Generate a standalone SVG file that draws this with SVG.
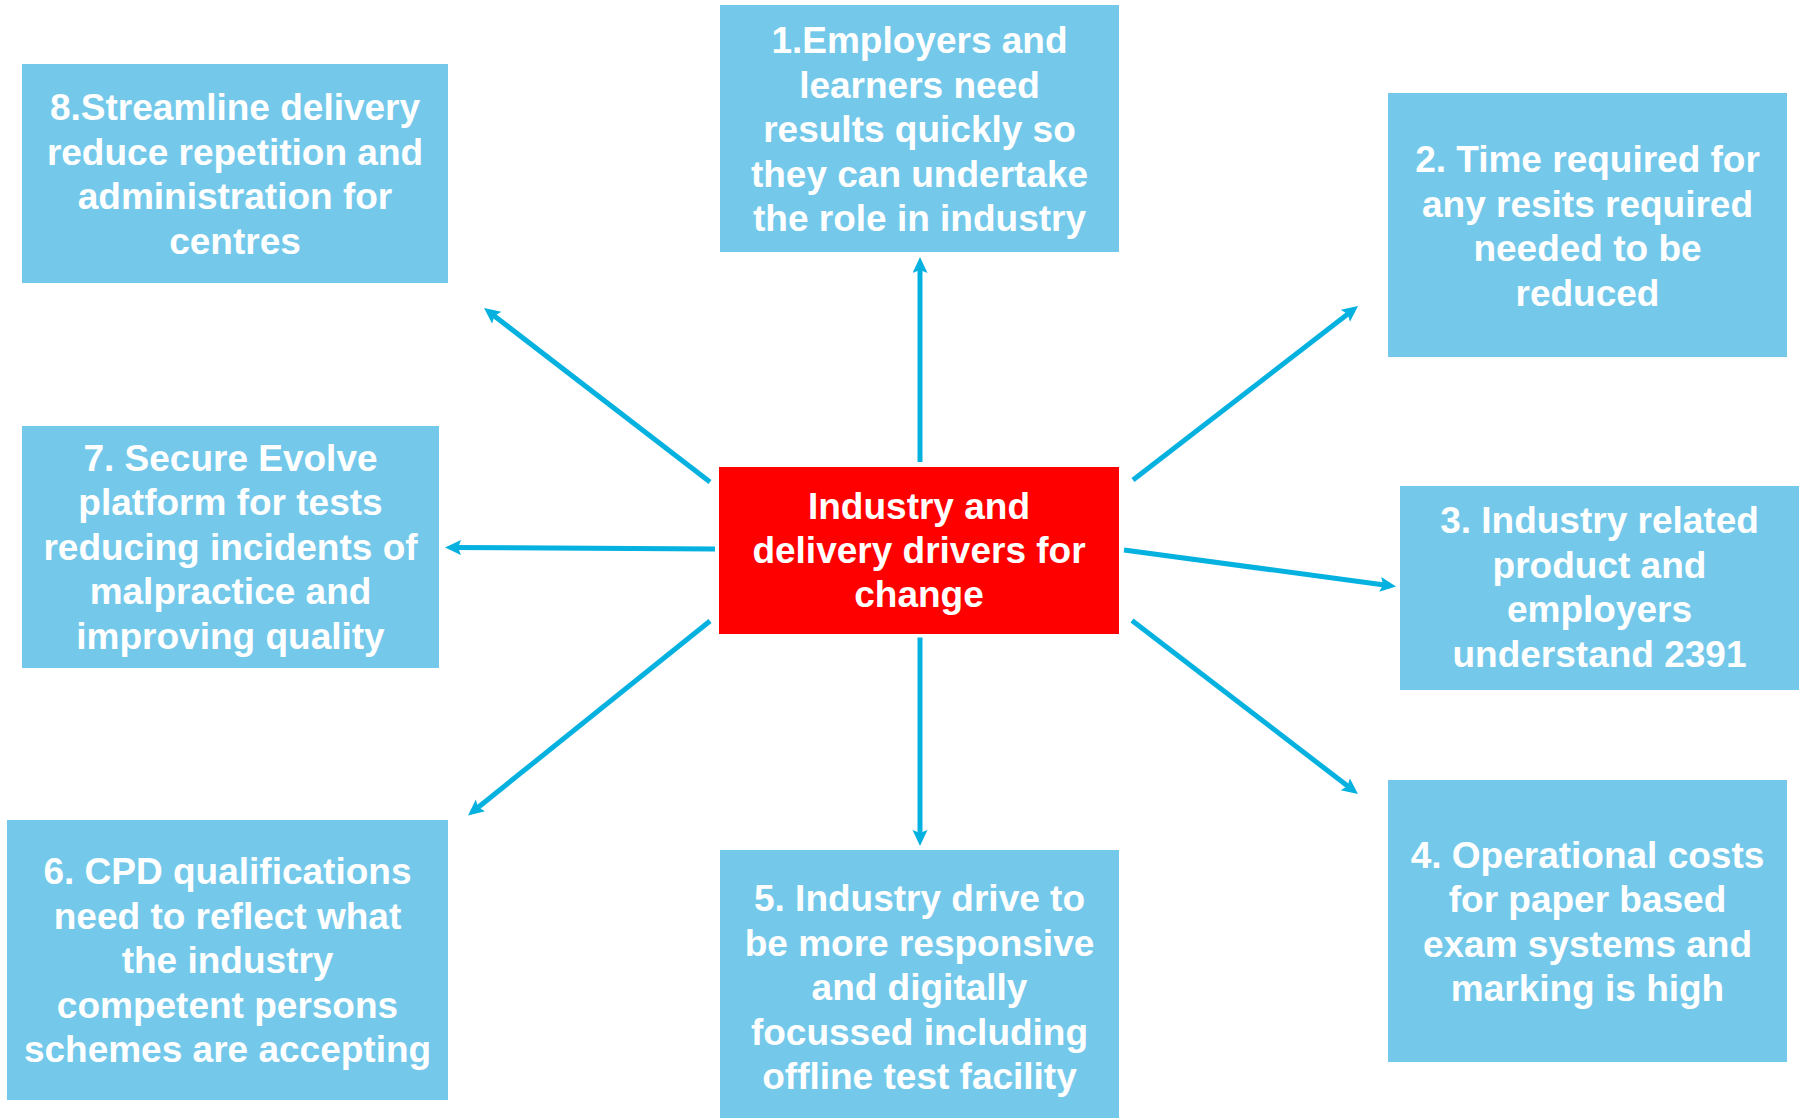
<svg xmlns="http://www.w3.org/2000/svg" width="1804" height="1118" viewBox="0 0 1804 1118">
<style>
.box{fill:#74C9EB}
.hub{fill:#FF0000}
.t{font-family:"Liberation Sans",Arial,sans-serif;font-weight:bold;font-size:37px;fill:#FFFFFF;text-anchor:middle}
.c{stroke:#05B1DF;stroke-width:5;fill:none;marker-end:url(#ah)}
</style>
<defs>
<marker id="ah" markerUnits="userSpaceOnUse" markerWidth="18" markerHeight="16" refX="10" refY="7.5" orient="auto">
<path d="M0,0 L16,7.5 L0,15 L3,7.5 z" fill="#05B1DF"/>
</marker>
</defs>
<rect width="1804" height="1118" fill="#FFFFFF"/>
<g id="connectors">
<line class="c" x1="920" y1="462" x2="920" y2="263"/>
<line class="c" x1="1133" y1="480" x2="1353.3" y2="309.7"/>
<line class="c" x1="1124" y1="550" x2="1390.1" y2="585.7"/>
<line class="c" x1="1132" y1="620.5" x2="1353.2" y2="790.3"/>
<line class="c" x1="920" y1="637.6" x2="920" y2="840"/>
<line class="c" x1="710" y1="621" x2="472.7" y2="811.7"/>
<line class="c" x1="715" y1="549" x2="451" y2="547.5"/>
<line class="c" x1="710" y1="482" x2="488.8" y2="311.7"/>
</g>
<g id="center">
<rect class="hub" x="719" y="467" width="400" height="167"/>
<text class="t"><tspan x="919" y="519">Industry and</tspan><tspan x="919" y="563">delivery drivers for</tspan><tspan x="919" y="607">change</tspan></text>
</g>
<g id="node1">
<rect class="box" x="720" y="5" width="399" height="247"/>
<text class="t"><tspan x="919.5" y="53">1.Employers and</tspan><tspan x="919.5" y="97.5">learners need</tspan><tspan x="919.5" y="142">results quickly so</tspan><tspan x="919.5" y="186.5">they can undertake</tspan><tspan x="919.5" y="231">the role in industry</tspan></text>
</g>
<g id="node2">
<rect class="box" x="1388" y="93" width="399" height="264"/>
<text class="t"><tspan x="1587.5" y="172">2. Time required for</tspan><tspan x="1587.5" y="216.5">any resits required</tspan><tspan x="1587.5" y="261">needed to be</tspan><tspan x="1587.5" y="305.5">reduced</tspan></text>
</g>
<g id="node3">
<rect class="box" x="1400" y="486" width="399" height="204"/>
<text class="t"><tspan x="1599.5" y="533">3. Industry related</tspan><tspan x="1599.5" y="577.5">product and</tspan><tspan x="1599.5" y="622">employers</tspan><tspan x="1599.5" y="666.5">understand 2391</tspan></text>
</g>
<g id="node4">
<rect class="box" x="1388" y="780" width="399" height="282"/>
<text class="t"><tspan x="1587.5" y="867.5">4. Operational costs</tspan><tspan x="1587.5" y="912">for paper based</tspan><tspan x="1587.5" y="956.5">exam systems and</tspan><tspan x="1587.5" y="1001">marking is high</tspan></text>
</g>
<g id="node5">
<rect class="box" x="720" y="850" width="399" height="273"/>
<text class="t"><tspan x="919.5" y="911">5. Industry drive to</tspan><tspan x="919.5" y="955.5">be more responsive</tspan><tspan x="919.5" y="1000">and digitally</tspan><tspan x="919.5" y="1044.5">focussed including</tspan><tspan x="919.5" y="1089">offline test facility</tspan></text>
</g>
<g id="node6">
<rect class="box" x="7" y="820" width="441" height="280"/>
<text class="t"><tspan x="227.5" y="884">6. CPD qualifications</tspan><tspan x="227.5" y="928.5">need to reflect what</tspan><tspan x="227.5" y="973">the industry</tspan><tspan x="227.5" y="1017.5">competent persons</tspan><tspan x="227.5" y="1062">schemes are accepting</tspan></text>
</g>
<g id="node7">
<rect class="box" x="22" y="426" width="417" height="242"/>
<text class="t"><tspan x="230.5" y="470.5">7. Secure Evolve</tspan><tspan x="230.5" y="515">platform for tests</tspan><tspan x="230.5" y="559.5">reducing incidents of</tspan><tspan x="230.5" y="604">malpractice and</tspan><tspan x="230.5" y="648.5">improving quality</tspan></text>
</g>
<g id="node8">
<rect class="box" x="22" y="64" width="426" height="219"/>
<text class="t"><tspan x="235" y="120">8.Streamline delivery</tspan><tspan x="235" y="164.5">reduce repetition and</tspan><tspan x="235" y="209">administration for</tspan><tspan x="235" y="253.5">centres</tspan></text>
</g>
</svg>
